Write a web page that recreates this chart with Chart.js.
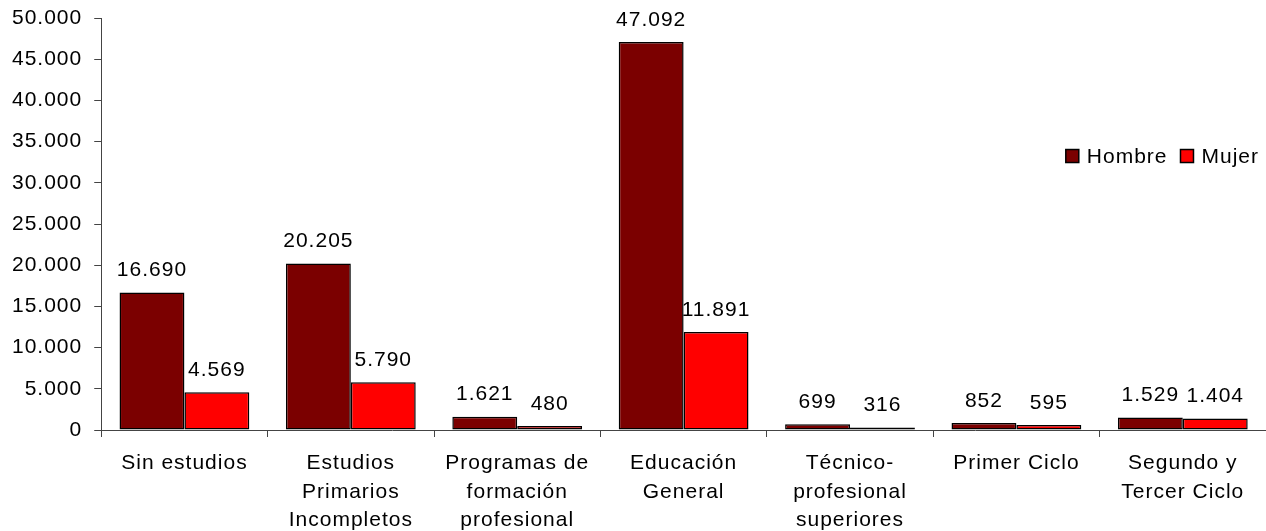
<!DOCTYPE html>
<html>
<head>
<meta charset="utf-8">
<script src="https://cdn.jsdelivr.net/npm/chart.js@4"></script>
<style>
  html, body { margin: 0; padding: 0; background: #fff; }
  #wrap { width: 1266px; height: 531px; position: relative; }
</style>
</head>
<body>
<div id="wrap"><canvas id="c"></canvas></div>
<script>
/* Población por nivel de estudios y sexo */

const categories = [
  "Sin estudios",
  ["Estudios", "Primarios", "Incompletos"],
  ["Programas de", "formación", "profesional"],
  ["Educación", "General"],
  ["Técnico-", "profesional", "superiores"],
  "Primer Ciclo",
  ["Segundo y", "Tercer Ciclo"],
];
const hombre = [16690, 20205, 1621, 47092, 699, 852, 1529];
const mujer = [4569, 5790, 480, 11891, 316, 595, 1404];
const yTicks = [0, 5000, 10000, 15000, 20000, 25000, 30000, 35000, 40000, 45000, 50000];

const FONT = "'Liberation Sans', Arial, sans-serif";
const AXIS = "#444";

function fmt(n) {
  return String(n).replace(/\B(?=(\d{3})+(?!\d))/g, ".");
}

// Excel renders its text a bit spread out
const spacing = {
  id: "spacing",
  beforeDraw(chart) { chart.ctx.letterSpacing = "1px"; },
  beforeLayout(chart) { chart.ctx.letterSpacing = "1px"; },
};

// value labels above each bar
const valueLabels = {
  id: "valueLabels",
  afterDatasetsDraw(chart) {
    const ctx = chart.ctx;
    ctx.save();
    ctx.letterSpacing = "1px";
    ctx.font = "21px " + FONT;
    ctx.fillStyle = "#000";
    ctx.textAlign = "center";
    ctx.textBaseline = "middle";
    chart.data.datasets.forEach((ds, i) => {
      chart.getDatasetMeta(i).data.forEach((bar, j) => {
        ctx.fillText(fmt(ds.data[j]), bar.x, bar.y - 22);
      });
    });
    ctx.restore();
  },
};

// legend drawn inside the plot, right side
const sideLegend = {
  id: "sideLegend",
  afterDraw(chart) {
    const ctx = chart.ctx;
    const a = chart.chartArea;
    ctx.save();
    ctx.letterSpacing = "1px";
    ctx.font = "21px " + FONT;
    ctx.textBaseline = "middle";
    ctx.textAlign = "left";
    const cy = a.top + (a.bottom - a.top) * 0.335;
    const box = 13, gap = 8, itemGap = 13;
    const items = chart.data.datasets.map((ds) => ({ ds, w: ctx.measureText(ds.label).width }));
    let total = items.reduce((s, it) => s + box + gap + it.w, 0) + itemGap * (items.length - 1);
    let x = a.right - 7 - total;
    items.forEach((it) => {
      ctx.fillStyle = it.ds.backgroundColor;
      ctx.fillRect(x, cy - box / 2, box, box);
      ctx.strokeStyle = "#000";
      ctx.lineWidth = 1.5;
      ctx.strokeRect(x, cy - box / 2, box, box);
      ctx.fillStyle = "#000";
      ctx.fillText(it.ds.label, x + box + gap, cy + 1);
      x += box + gap + it.w + itemGap;
    });
    ctx.restore();
  },
};

new Chart(document.getElementById("c"), {
  type: "bar",
  data: {
    labels: categories,
    datasets: [
      { label: "Hombre", data: hombre, backgroundColor: "#7b0000", borderColor: "#000", borderWidth: 1.5, borderSkipped: false },
      { label: "Mujer", data: mujer, backgroundColor: "#ff0000", borderColor: "#000", borderWidth: 1.5, borderSkipped: false },
    ],
  },
  options: {
    responsive: true,
    maintainAspectRatio: false,
    animation: false,
    layout: { padding: { top: 18, right: 0, bottom: 0, left: 0 } },
    datasets: { bar: { categoryPercentage: 0.78, barPercentage: 1 } },
    plugins: { legend: { display: false }, tooltip: { enabled: false } },
    scales: {
      x: {
        afterFit(axis) { axis.height = 101; },
        grid: { display: true, offset: true, drawOnChartArea: false, drawTicks: true, tickLength: 7, color: AXIS },
        border: { display: true, color: AXIS, width: 1 },
        ticks: { color: "#000", padding: 12, maxRotation: 0, autoSkip: false, font: { family: FONT, size: 21, lineHeight: 1.36 } },
      },
      y: {
        min: 0,
        max: 50000,
        afterBuildTicks(axis) { axis.ticks = yTicks.map((v) => ({ value: v })); },
        afterFit(axis) { axis.paddingTop = 0; axis.paddingBottom = 0; },
        grid: { display: true, drawOnChartArea: false, drawTicks: true, tickLength: 7, color: AXIS },
        border: { display: true, color: AXIS, width: 1 },
        ticks: { color: "#000", padding: 12, callback: (v) => fmt(v), font: { family: FONT, size: 21 } },
      },
    },
  },
  plugins: [spacing, valueLabels, sideLegend],
});
</script>
</body>
</html>
